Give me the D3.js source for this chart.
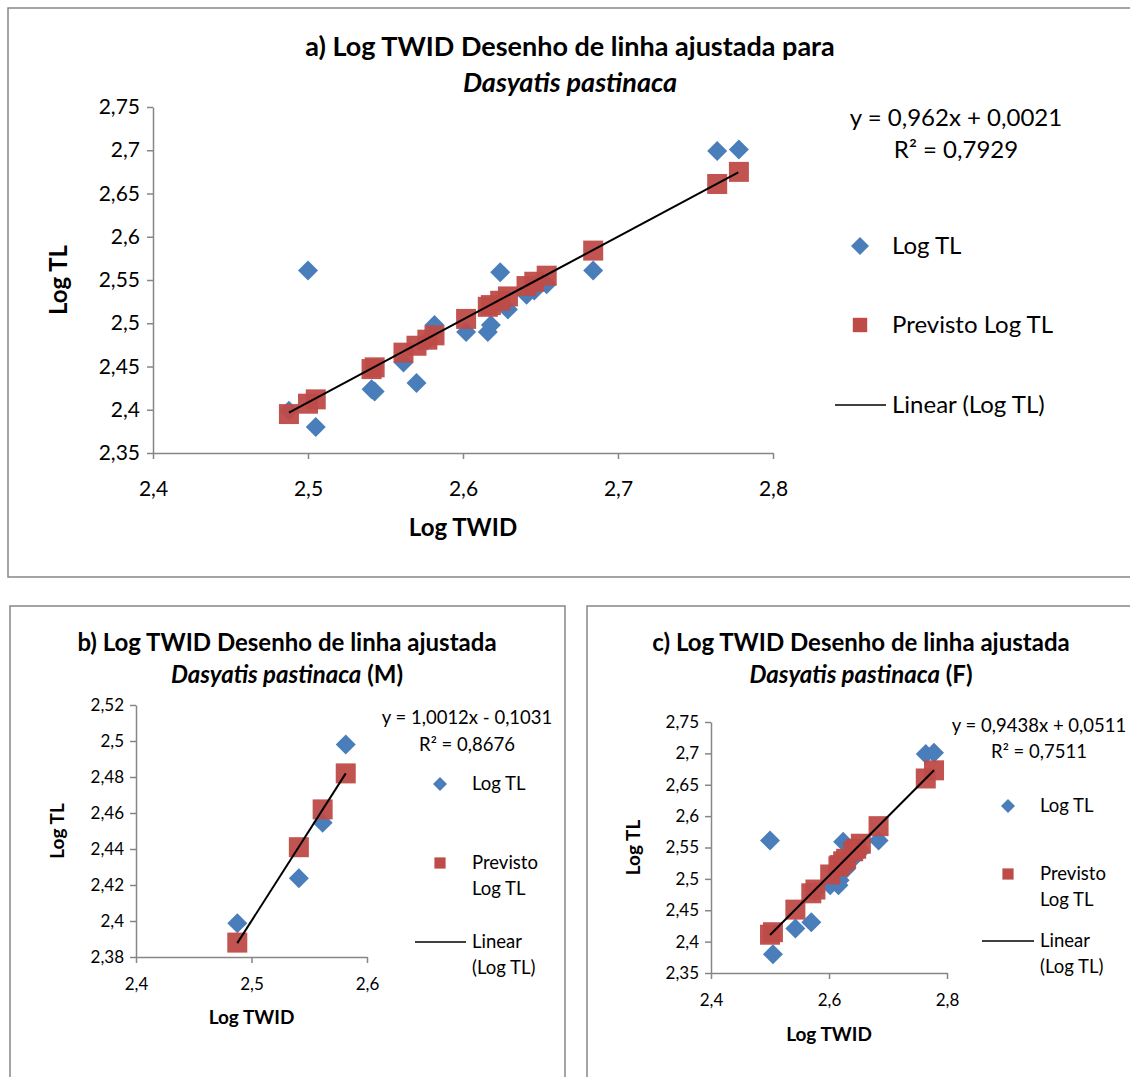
<!DOCTYPE html>
<html>
<head>
<meta charset="utf-8">
<script src="https://cdn.jsdelivr.net/npm/d3@7/dist/d3.min.js"></script>
<style>
  body { margin: 0; background: #fff; }
  text { font-family: Lato, "Open Sans", sans-serif; fill: #000; }
</style>
</head>
<body>
<div id="chart"></div>
<script>
// all fish (males + females)
var twidAll = [2.4877, 2.500, 2.505, 2.541, 2.543, 2.5616, 2.570, 2.577, 2.5816, 2.602,
               2.616, 2.618, 2.624, 2.629, 2.641, 2.646, 2.654, 2.684, 2.764, 2.778];
var tlAll   = [2.3987, 2.561, 2.380, 2.4237, 2.421, 2.4546, 2.431, 2.480, 2.498, 2.490,
               2.490, 2.498, 2.559, 2.516, 2.533, 2.538, 2.545, 2.561, 2.699, 2.701];
var predAll = [2.395, 2.407, 2.412, 2.447, 2.449, 2.466, 2.474, 2.481, 2.486, 2.505,
               2.519, 2.521, 2.526, 2.531, 2.543, 2.548, 2.555, 2.584, 2.661, 2.675];

// males
var twidMale = [2.4877, 2.541, 2.5616, 2.5816];
var tlMale   = [2.3987, 2.4237, 2.4546, 2.498];
var predMale = [2.388, 2.441, 2.462, 2.482];

// females
var twidFemale = [2.500, 2.505, 2.543, 2.570, 2.577, 2.602, 2.616, 2.618, 2.624, 2.629,
                  2.641, 2.646, 2.654, 2.684, 2.764, 2.778];
var tlFemale   = [2.561, 2.380, 2.421, 2.431, 2.480, 2.490, 2.490, 2.498, 2.559, 2.516,
                  2.533, 2.538, 2.545, 2.561, 2.699, 2.701];
var predFemale = [2.411, 2.415, 2.451, 2.477, 2.483, 2.507, 2.520, 2.522, 2.528, 2.532,
                  2.544, 2.548, 2.556, 2.584, 2.660, 2.673];

// trend line ends [x, y]
var trendAll    = [[2.4877, 2.3966], [2.7776, 2.6745]];
var trendMale   = [[2.4877, 2.3877], [2.5816, 2.482]];
var trendFemale = [[2.500, 2.4106], [2.778, 2.673]];

// ticks
var xTicksA = [2.4, 2.5, 2.6, 2.7, 2.8];
var yTicksA = [2.35, 2.4, 2.45, 2.5, 2.55, 2.6, 2.65, 2.7, 2.75];
var xTicksB = [2.4, 2.5, 2.6];
var yTicksB = [2.38, 2.4, 2.42, 2.44, 2.46, 2.48, 2.5, 2.52];
var xTicksC = [2.4, 2.6, 2.8];
var yTicksC = [2.35, 2.4, 2.45, 2.5, 2.55, 2.6, 2.65, 2.7, 2.75];

var equations = ['y = 0,962x + 0,0021', 'y = 1,0012x - 0,1031', 'y = 0,9438x + 0,0511'];
var rSquared  = ['R² = 0,7929', 'R² = 0,8676', 'R² = 0,7511'];

var BLUE = '#4a7ebb', RED = '#be4b48', GRAY = '#868686';
var comma = function(v){ return (''+(+v.toFixed(2))).replace('.', ','); };

var svg = d3.select('#chart').append('svg')
  .attr('width', 1130).attr('height', 1077);

function panel(o){
  var g = svg.append('g');
  g.append('rect')
    .attr('x', o.frame[0]).attr('y', o.frame[1])
    .attr('width', o.frame[2]).attr('height', o.frame[3])
    .attr('fill', 'none').attr('stroke', GRAY).attr('stroke-width', 1.5);

  // title
  var t = g.append('text').attr('text-anchor', 'middle')
    .attr('x', o.titleX).attr('font-weight', 'bold').attr('font-size', o.titleSize);
  t.append('tspan').attr('x', o.titleX).attr('y', o.titleY[0]).text(o.title);
  var t2 = t.append('tspan').attr('x', o.titleX).attr('y', o.titleY[1]);
  t2.append('tspan').attr('font-style', 'italic').text('Dasyatis pastinaca');
  if (o.sex) t2.append('tspan').text(' ' + o.sex);

  var x = d3.scaleLinear().domain(o.xDomain).range(o.xRange);
  var y = d3.scaleLinear().domain(o.yDomain).range(o.yRange);

  var xAxis = g.append('g').attr('transform', 'translate(0,' + o.yRange[0] + ')')
    .call(d3.axisBottom(x).tickValues(o.xTicks).tickSize(6).tickSizeOuter(0).tickFormat(comma));
  var yAxis = g.append('g').attr('transform', 'translate(' + o.xRange[0] + ',0)')
    .call(d3.axisLeft(y).tickValues(o.yTicks).tickSize(6).tickSizeOuter(0).tickFormat(comma));
  [xAxis, yAxis].forEach(function(a){
    a.select('.domain').attr('stroke', GRAY).attr('stroke-width', 1.5);
    a.selectAll('.tick line').attr('stroke', GRAY).attr('stroke-width', 1.5);
    a.selectAll('.tick text').attr('font-size', o.tickSize).attr('font-family', null);
  });
  xAxis.selectAll('.tick text').attr('dy', null).attr('y', o.xLabelDy);
  yAxis.selectAll('.tick text').attr('x', -o.yLabelDx);

  g.append('text').attr('text-anchor', 'middle').attr('font-weight', 'bold')
    .attr('font-size', o.axisSize)
    .attr('x', d3.mean(o.xRange)).attr('y', o.xTitleY).text('Log TWID');
  g.append('text').attr('text-anchor', 'middle').attr('font-weight', 'bold')
    .attr('font-size', o.axisSize)
    .attr('transform', 'translate(' + o.yTitleX + ',' + d3.mean(o.yRange) + ') rotate(-90)')
    .text('Log TL');

  var d = o.ms;
  g.selectAll('path.obs').data(o.tw).enter().append('path').classed('obs', true)
    .attr('d', 'M0,' + (-d) + 'L' + d + ',0L0,' + d + 'L' + (-d) + ',0Z')
    .attr('fill', BLUE)
    .attr('transform', function(v, i){ return 'translate(' + x(v) + ',' + y(o.tl[i]) + ')'; });
  g.selectAll('rect.pred').data(o.tw).enter().append('rect').classed('pred', true)
    .attr('x', function(v){ return x(v) - d; })
    .attr('y', function(v, i){ return y(o.pred[i]) - d; })
    .attr('width', 2*d).attr('height', 2*d)
    .attr('fill', RED).attr('fill-opacity', 0.95);
  g.append('path').datum(o.trend)
    .attr('d', d3.line().x(function(p){ return x(p[0]); }).y(function(p){ return y(p[1]); }))
    .attr('stroke', '#000').attr('stroke-width', 2).attr('fill', 'none');

  // equation
  var L = o.legend;
  g.append('text').attr('text-anchor', 'middle').attr('font-size', L.size)
    .attr('x', L.eqX).attr('y', L.eqY).text(equations[o.idx]);
  g.append('text').attr('text-anchor', 'middle').attr('font-size', L.size)
    .attr('x', L.eqX).attr('y', L.eqY + L.eqGap).text(rSquared[o.idx]);

  // legend entries
  var k = L.key;
  g.append('path')
    .attr('d', 'M0,' + (-k) + 'L' + k + ',0L0,' + k + 'L' + (-k) + ',0Z')
    .attr('fill', BLUE).attr('transform', 'translate(' + L.mx + ',' + L.rows[0] + ')');
  g.append('rect').attr('x', L.mx - k*0.8).attr('y', L.rows[1] - k*0.8)
    .attr('width', k*1.6).attr('height', k*1.6).attr('fill', RED);
  g.append('line').attr('x1', L.lx[0]).attr('x2', L.lx[1])
    .attr('y1', L.rows[2]).attr('y2', L.rows[2]).attr('stroke', '#000').attr('stroke-width', 1.5);
  L.labels.forEach(function(lines, i){
    lines.forEach(function(s, j){
      g.append('text').attr('font-size', L.size).attr('x', L.tx)
        .attr('y', L.rows[i] + j*L.lineGap).attr('dy', '0.35em').text(s);
    });
  });
}

panel({
  idx: 0, frame: [8, 8, 1130, 569],
  title: 'a) Log TWID Desenho de linha ajustada para', titleX: 570, titleY: [56, 92], titleSize: 27,
  xDomain: [2.4, 2.8], xRange: [153, 773], yDomain: [2.35, 2.75], yRange: [453, 107],
  xTicks: xTicksA, yTicks: yTicksA, tickSize: 21, xLabelDy: 43, yLabelDx: 13,
  axisSize: 24, xTitleY: 536, yTitleX: 67,
  tw: twidAll, tl: tlAll, pred: predAll, trend: trendAll, ms: 10,
  legend: { size: 24, eqX: 956, eqY: 126, eqGap: 32, key: 9, mx: 860, tx: 892,
            rows: [246, 325, 405], lx: [835, 886], lineGap: 26,
            labels: [['Log TL'], ['Previsto Log TL'], ['Linear (Log TL)']] }
});

panel({
  idx: 1, frame: [10, 606, 555, 480], sex: '(M)',
  title: 'b) Log TWID Desenho de linha ajustada', titleX: 287, titleY: [651, 683], titleSize: 24,
  xDomain: [2.4, 2.6], xRange: [136, 367], yDomain: [2.38, 2.52], yRange: [957, 705],
  xTicks: xTicksB, yTicks: yTicksB, tickSize: 17, xLabelDy: 33, yLabelDx: 12,
  axisSize: 19, xTitleY: 1024, yTitleX: 64,
  tw: twidMale, tl: tlMale, pred: predMale, trend: trendMale, ms: 10,
  legend: { size: 18.5, eqX: 467, eqY: 724, eqGap: 27, key: 7, mx: 440, tx: 472,
            rows: [784, 863, 942], lx: [415, 466], lineGap: 26,
            labels: [['Log TL'], ['Previsto', 'Log TL'], ['Linear', '(Log TL)']] }
});

panel({
  idx: 2, frame: [587, 606, 600, 480], sex: '(F)',
  title: 'c) Log TWID Desenho de linha ajustada', titleX: 861, titleY: [651, 683], titleSize: 24,
  xDomain: [2.4, 2.8], xRange: [711, 947], yDomain: [2.35, 2.75], yRange: [973, 722],
  xTicks: xTicksC, yTicks: yTicksC, tickSize: 17, xLabelDy: 33, yLabelDx: 12,
  axisSize: 19, xTitleY: 1041, yTitleX: 640,
  tw: twidFemale, tl: tlFemale, pred: predFemale, trend: trendFemale, ms: 10,
  legend: { size: 18.5, eqX: 1039, eqY: 732, eqGap: 26, key: 7, mx: 1008, tx: 1040,
            rows: [806, 874, 941], lx: [982, 1034], lineGap: 26,
            labels: [['Log TL'], ['Previsto', 'Log TL'], ['Linear', '(Log TL)']] }
});
</script>
</body>
</html>
